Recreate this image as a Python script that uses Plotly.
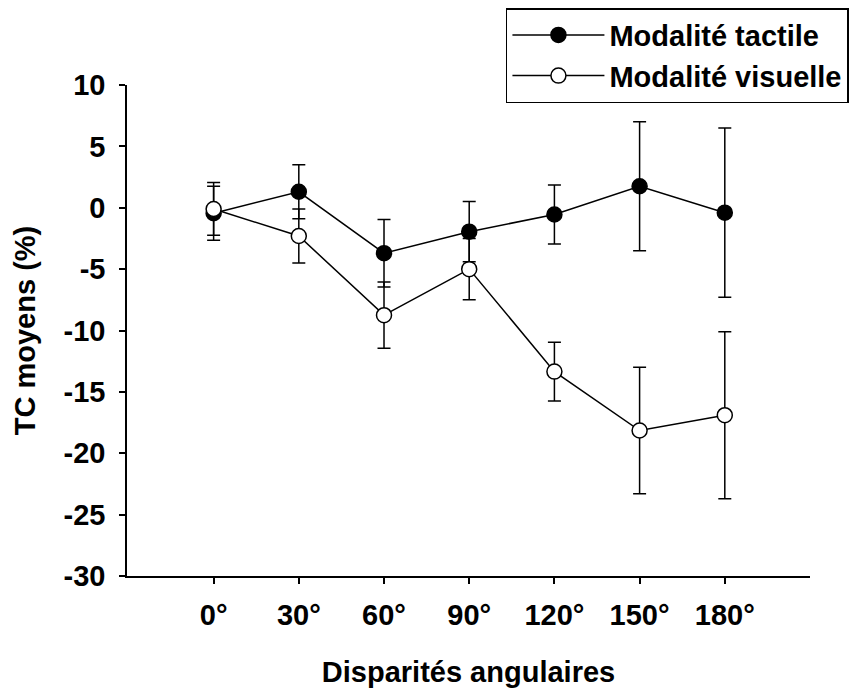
import plotly.graph_objects as go

# Angular disparity conditions (degrees) and their tick labels
angles = [0, 30, 60, 90, 120, 150, 180]
angle_labels = ["0°", "30°", "60°", "90°", "120°", "150°", "180°"]

# Mean TC (%) and error half-widths, tactile modality
tactile_mean = [-0.45, 1.3, -3.7, -1.95, -0.55, 1.75, -0.4]
tactile_err = [2.2, 2.2, 2.75, 2.45, 2.4, 5.25, 6.9]

# Mean TC (%) and error half-widths, visual modality
visual_mean = [-0.1, -2.3, -8.75, -5.0, -13.35, -18.15, -16.9]
visual_err = [2.15, 2.2, 2.7, 2.5, 2.4, 5.15, 6.8]

# Y axis ticks
y_ticks = [10, 5, 0, -5, -10, -15, -20, -25, -30]
y_tick_labels = ["10", "5", "0", "-5", "-10", "-15", "-20", "-25", "-30"]

FONT = "Liberation Sans, Arial, sans-serif"
INK = "black"
FS = 29

fig = go.Figure()


def add_series(name, means, errs, fill):
    fig.add_trace(go.Scatter(
        x=angles, y=means, name=name, mode="lines+markers",
        line=dict(color=INK, width=1.5),
        marker=dict(size=15, color=fill, line=dict(color=INK, width=1.5)),
        error_y=dict(type="data", array=errs, visible=True,
                     color=INK, thickness=1.5, width=6.5),
        cliponaxis=False,
    ))


add_series("Modalité tactile", tactile_mean, tactile_err, "black")
add_series("Modalité visuelle", visual_mean, visual_err, "white")

fig.update_layout(
    width=854, height=688,
    margin=dict(l=126.5, r=44, t=85, b=111.5, pad=0, autoexpand=False),
    paper_bgcolor="white", plot_bgcolor="white",
    font=dict(family=FONT, size=FS, color=INK, weight="bold"),
    showlegend=True,
    legend=dict(
        x=0.5548, y=1.1567, xanchor="left", yanchor="top",
        bordercolor=INK, borderwidth=1.5, bgcolor="white",
        font=dict(family=FONT, size=FS, color=INK, weight="bold"),
        itemwidth=92, tracegroupgap=0,
    ),
    xaxis=dict(
        range=[-30.5, 210], showgrid=False, zeroline=False,
        showline=True, linecolor=INK, linewidth=1.5,
        ticks="outside", ticklen=6, tickwidth=1.5, tickcolor=INK,
        tickvals=angles, ticktext=angle_labels,
        ticklabelstandoff=6, automargin=False,
        title=dict(text="Disparités angulaires", standoff=34,
                   font=dict(family=FONT, size=FS, weight="bold")),
    ),
    yaxis=dict(
        range=[-30, 10], showgrid=False, zeroline=False,
        showline=True, linecolor=INK, linewidth=1.5,
        ticks="outside", ticklen=6, tickwidth=1.5, tickcolor=INK,
        tickvals=y_ticks, ticktext=y_tick_labels,
        ticklabelstandoff=8, automargin=False,
        title=dict(text="TC moyens (%)", standoff=19,
                   font=dict(family=FONT, size=FS, weight="bold")),
    ),
)

fig.write_html("out.html")
